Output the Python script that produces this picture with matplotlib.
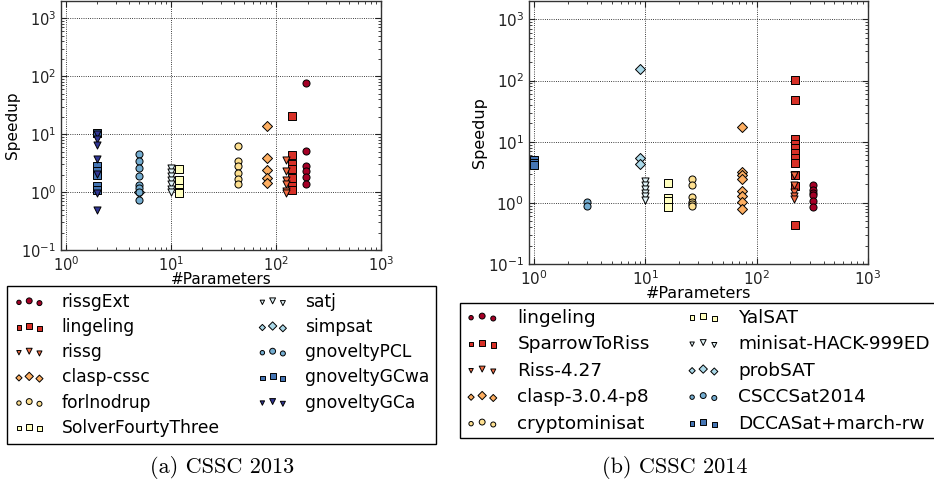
import matplotlib
matplotlib.use("Agg")
import matplotlib.pyplot as plt
from matplotlib.collections import PathCollection
from matplotlib.legend_handler import HandlerPathCollection

# ---------------- data ----------------
colors = ["#a50026", "#d73027", "#f46d43", "#fdae61", "#fee090", "#ffffbf",
          "#e0f3f8", "#abd9e9", "#74add1", "#4575b4", "#313695"]
markers = ["o", "s", "v", "D", "o", "s", "v", "D", "o", "s", "v"]

names_2013 = ["rissgExt", "lingeling", "rissg", "clasp-cssc", "forlnodrup",
              "SolverFourtyThree", "satj", "simpsat", "gnoveltyPCL",
              "gnoveltyGCwa", "gnoveltyGCa"]
params_2013 = [192, 141, 124, 83, 44, 12, 10, 5, 5, 2, 2]
speedup_2013 = [
    [77, 5.1, 2.8, 2.35, 1.8, 1.4],
    [21, 4.4, 3.1, 2.5, 1.75, 1.3, 1.08],
    [3.6, 2.3, 1.65, 1.4, 1.05, 0.98],
    [14, 3.9, 2.4, 1.75, 1.45],
    [6.3, 3.45, 2.8, 2.1, 1.68, 1.36],
    [2.5, 1.6, 1.2, 1.0, 0.95],
    [2.6, 2.2, 1.9, 1.6, 1.4, 1.15, 1.0],
    [1.0],
    [4.5, 3.4, 2.6, 1.9, 1.35, 1.2, 1.0, 0.73],
    [10.3, 2.8, 2.3, 2.0, 1.25, 1.08],
    [9.9, 8.4, 6.6, 3.7, 2.05, 0.98, 0.5],
]

names_2014 = ["lingeling", "SparrowToRiss", "Riss-4.27", "clasp-3.0.4-p8",
              "cryptominisat", "YalSAT", "minisat-HACK-999ED", "probSAT",
              "CSCCSat2014", "DCCASat+march-rw"]
params_2014 = [323, 221, 215, 74, 26, 16, 10, 8.9, 3, 1]
speedup_2014 = [
    [1.97, 1.6, 1.45, 1.35, 1.06, 0.85],
    [104, 48, 10.9, 9.2, 7.8, 6.5, 5.45, 4.5, 2.84, 1.87, 0.44],
    [2.9, 1.95, 1.5, 1.3, 1.15],
    [17.5, 3.25, 2.9, 2.5, 1.55, 1.3, 1.05, 0.78],
    [2.5, 1.95, 1.27, 1.03, 0.95, 0.9],
    [2.1, 1.2, 1.07, 0.87],
    [2.3, 1.95, 1.7, 1.45, 1.3, 1.1],
    [152, 5.4, 4.35],
    [1.05, 0.9],
    [5.0, 4.5, 4.2],
]

caption_2013 = "(a) CSSC 2013"
caption_2014 = "(b) CSSC 2014"

# ---------------- figure ----------------
W, H = 934, 486
fig = plt.figure(figsize=(W / 100, H / 100), dpi=100)


def fbox(x0, y0, x1, y1):
    return [x0 / W, 1 - y1 / H, (x1 - x0) / W, (y1 - y0) / H]


def draw(ax, names, params, speeds, tick_fs, label_fs):
    handles = []
    for i, (n, p, ys) in enumerate(zip(names, params, speeds)):
        h = ax.scatter([p] * len(ys), ys, s=26, c=colors[i], marker=markers[i],
                       edgecolors="k", linewidths=0.7, label=n, zorder=3)
        handles.append(h)
    ax.set_xscale("log")
    ax.set_yscale("log")
    ax.set_xlim(0.9, 1000)
    ax.set_ylim(0.1, 2000)
    ax.grid(True, which="major", color="k", linestyle=":", linewidth=0.6)
    ax.tick_params(which="both", direction="in", top=True, right=True,
                   labelsize=tick_fs, colors="#222222")
    ax.tick_params(which="major", length=4)
    ax.tick_params(which="minor", length=2)
    for sp in ax.spines.values():
        sp.set_color("#333333")
        sp.set_linewidth(1.0)
    ax.set_xlabel("#Parameters", fontsize=label_fs, labelpad=-1)
    ax.set_ylabel("Speedup", fontsize=label_fs, labelpad=1)
    return handles


ax1 = fig.add_axes(fbox(61, 1, 381, 250))
h1 = draw(ax1, names_2013, params_2013, speedup_2013, 10.5, 11)
ax2 = fig.add_axes(fbox(529, 1, 868, 264))
h2 = draw(ax2, names_2014, params_2014, speedup_2014, 11, 11.5)

hm = {PathCollection: HandlerPathCollection(sizes=[10, 18, 13])}
common = dict(loc="upper left", ncol=2, scatterpoints=3,
              scatteryoffsets=[0.375, 0.5, 0.3125], fancybox=False,
              framealpha=1, edgecolor="k", borderaxespad=0,
              handler_map=hm, bbox_transform=fig.transFigure)

leg1 = fig.legend(h1, names_2013, bbox_to_anchor=(7 / W, 1 - 286 / H),
                  fontsize=12.3, handlelength=1.8, handletextpad=1.0,
                  columnspacing=2.2, labelspacing=0.42, borderpad=0.4, **common)
leg1.get_frame().set_linewidth(1.0)

leg2 = fig.legend(h2, names_2014, bbox_to_anchor=(460 / W, 1 - 303 / H),
                  fontsize=13.3, handlelength=1.8, handletextpad=1.0,
                  columnspacing=2.0, labelspacing=0.46, borderpad=0.3, **common)
leg2.get_frame().set_linewidth(1.0)

fig.text(222 / W, 1 - 467 / H, caption_2013, family="cmr10", fontsize=16,
         ha="center", va="center")
fig.text(675 / W, 1 - 467 / H, caption_2014, family="cmr10", fontsize=16,
         ha="center", va="center")

fig.savefig("out.png", dpi=100)
